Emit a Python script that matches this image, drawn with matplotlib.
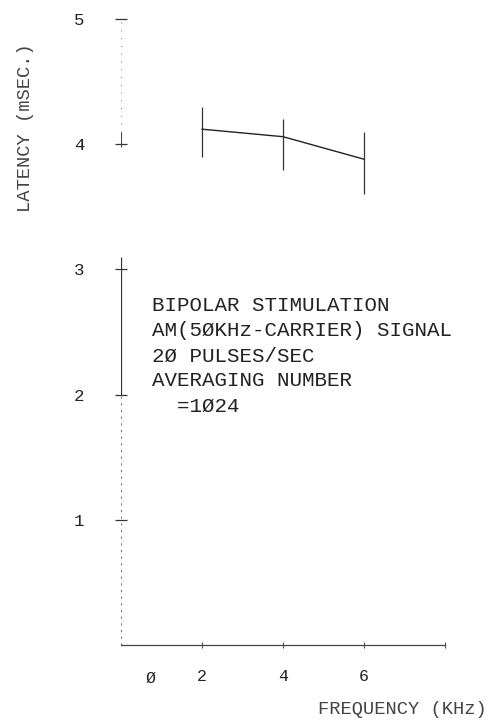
import matplotlib.pyplot as plt

# frequency (kHz) vs latency (msec) with error bar ends
FREQ = [2, 4, 6]
LATENCY = [4.12, 4.06, 3.88]
LAT_LOW = [3.90, 3.79, 3.60]
LAT_HIGH = [4.30, 4.20, 4.10]

Y_TICKS = [1, 2, 3, 4, 5]
X_TICKS = [2, 4, 6, 8]
X_LABELS = ['2', '4', '6', '']

NOTE = ['BIPOLAR STIMULATION',
        'AM(5ØKHz-CARRIER) SIGNAL',
        '2Ø PULSES/SEC',
        'AVERAGING NUMBER',
        '  =1Ø24']

INK = '#222222'
FONT = 'Liberation Mono'

if __name__ == '__main__':
    fig = plt.figure(figsize=(5.02, 7.25), dpi=100)
    ax = fig.add_axes([121 / 502, 80 / 725, 324 / 502, 626 / 725])
    ax.set_xlim(0, 8)
    ax.set_ylim(0, 5)

    for s in ('top', 'right', 'left'):
        ax.spines[s].set_visible(False)
    ax.spines['bottom'].set_color('#444444')
    ax.spines['bottom'].set_linewidth(0.9)

    # faded plotter y axis
    ax.vlines(0, 2.0, 3.1, color='#333333', lw=0.9)
    ax.vlines(0, 0, 2.0, color='#777777', lw=0.8, linestyles=(0, (2, 4)))
    ax.vlines(0, 4.1, 5, color='#888888', lw=0.8, linestyles=(0, (1, 6)))
    ax.vlines(0, 3.98, 4.1, color='#444444', lw=0.8)

    ax.plot(FREQ, LATENCY, color=INK, lw=1.0)
    ax.vlines(FREQ, LAT_LOW, LAT_HIGH, color='#333333', lw=0.9)

    ax.set_yticks(Y_TICKS)
    ax.set_yticklabels([str(v) for v in Y_TICKS])
    ax.set_xticks(X_TICKS)
    ax.set_xticklabels(X_LABELS)
    ax.tick_params(axis='y', direction='inout', length=9, width=0.9,
                   color='#333333', pad=22, labelsize=12.5, labelcolor=INK)
    ax.tick_params(axis='x', direction='inout', length=5, width=0.8,
                   color='#555555', pad=15, labelsize=12, labelcolor=INK)
    for lab in ax.get_xticklabels() + ax.get_yticklabels():
        lab.set_fontfamily(FONT)
    ax.text(0.72, -0.053, 'Ø', transform=ax.get_xaxis_transform(),
            ha='center', va='center', fontsize=12, family=FONT, color=INK)

    ax.set_ylabel('LATENCY (mSEC.)', fontsize=13.5, family=FONT, color='#444444')
    ax.yaxis.set_label_coords(-0.27, 0.826)
    ax.set_xlabel('FREQUENCY (KHz)', fontsize=13.5, family=FONT, color='#444444')
    ax.xaxis.set_label_coords(0.867, -0.09)

    ax.text(0.77, 2.784, '\n'.join(NOTE), ha='left', va='top',
            fontsize=15, family=FONT, color=INK, linespacing=1.4)

    fig.savefig('out.png', dpi=100)
